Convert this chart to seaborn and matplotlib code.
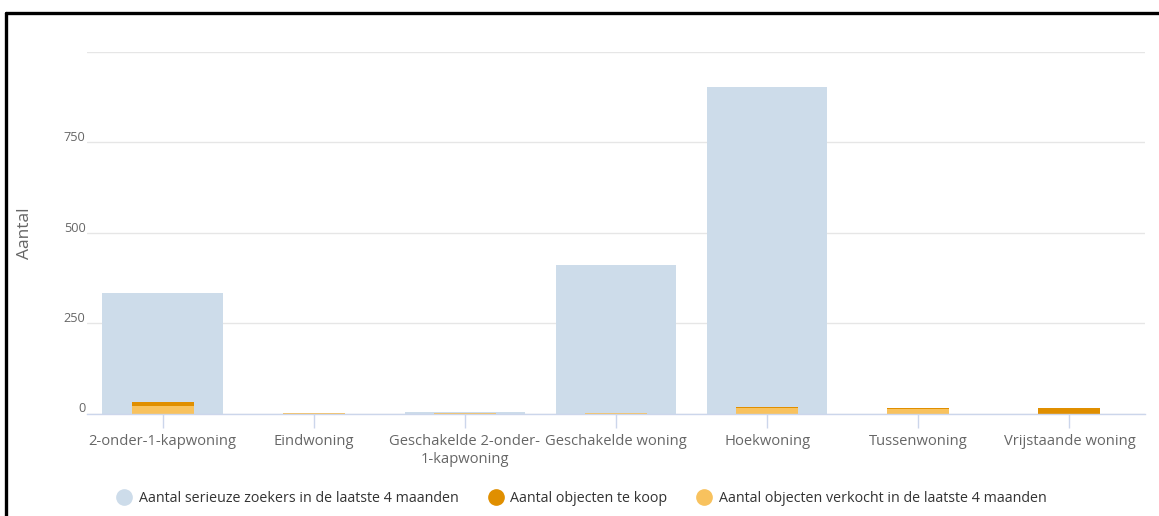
import matplotlib
matplotlib.use("Agg")
import matplotlib.pyplot as plt
from matplotlib.lines import Line2D
import matplotlib.transforms as mtransforms
import seaborn as sns
import pandas as pd

categories = [
    "2-onder-1-kapwoning",
    "Eindwoning",
    "Geschakelde 2-onder-\n1-kapwoning",
    "Geschakelde woning",
    "Hoekwoning",
    "Tussenwoning",
    "Vrijstaande woning",
]
zoekers = [333, 0, 5, 411, 903, 0, 0]
te_koop = [31, 0, 2, 0, 19, 16, 16]
verkocht = [22, 1, 2, 1, 15, 12, 0]

series_names = [
    "Aantal serieuze zoekers in de laatste 4 maanden",
    "Aantal objecten te koop",
    "Aantal objecten verkocht in de laatste 4 maanden",
]
yticks = [0, 250, 500, 750]

BLUE = "#cddcea"
DARK = "#e08f00"
LIGHT = "#f8c25e"
TEXT = "#666666"

sns.set_theme(style="white")
plt.rcParams["font.family"] = ["Open Sans", "DejaVu Sans"]

fig = plt.figure(figsize=(11.59, 5.16), dpi=100)
ax = fig.add_axes([87 / 1159, (516 - 413.5) / 516, (1145 - 87) / 1159, (413.5 - 52) / 516])

df = pd.DataFrame({"cat": categories, "zoekers": zoekers,
                   "te_koop": te_koop, "verkocht": verkocht})

bar_kw = dict(saturation=1, ax=ax, linewidth=0, edgecolor="none")
sns.barplot(data=df, x="cat", y="zoekers", color=BLUE, width=0.795, zorder=2, **bar_kw)
sns.barplot(data=df, x="cat", y="te_koop", color=DARK, width=0.41, zorder=3, **bar_kw)
sns.barplot(data=df, x="cat", y="verkocht", color=LIGHT, width=0.41, zorder=4, **bar_kw)

ax.set_ylim(0, 1000)
ax.set_xlim(-0.5, len(categories) - 0.5)
ax.set_yticks([0, 250, 500, 750, 1000])
ax.set_yticklabels([str(v) for v in yticks] + [""])
ax.yaxis.grid(True, color="#e6e6e6", linewidth=1)
ax.set_axisbelow(True)
for side in ["top", "right", "left"]:
    ax.spines[side].set_visible(False)
ax.spines["bottom"].set_color("#ccd6eb")
ax.spines["bottom"].set_linewidth(1)
ax.spines["bottom"].set_zorder(5)

ax.tick_params(axis="y", length=0, pad=1, labelsize=9.2, labelcolor=TEXT)
ax.tick_params(axis="x", length=10, width=1, color="#ccd6eb", direction="out",
               pad=5, labelsize=10.6, labelcolor=TEXT, bottom=True)
for lbl in ax.get_yticklabels():
    lbl.set_transform(lbl.get_transform() +
                      mtransforms.ScaledTranslation(0, 6 / 100, fig.dpi_scale_trans))
    lbl.set_horizontalalignment("right")
for lbl in ax.get_xticklabels():
    lbl.set_linespacing(1.2)

ax.set_xlabel("")
ax.set_ylabel("Aantal", fontsize=12.5, color=TEXT, labelpad=0)
ax.yaxis.set_label_coords(25 / 1159, 0.5, transform=fig.transFigure)
ax.yaxis.label.set_verticalalignment("center")
ax.yaxis.label.set_position((25 / 1159, 1 - 233 / 516))

handles = [
    Line2D([], [], marker="o", linestyle="", markersize=11,
           markerfacecolor=c, markeredgecolor=c)
    for c in (BLUE, DARK, LIGHT)
]
fig.legend(handles, series_names, loc="center", bbox_to_anchor=(581 / 1159, 1 - 499 / 516),
           ncol=3, frameon=False, fontsize=10.3, handletextpad=0.4, columnspacing=2.0,
           labelcolor="#333333", handlelength=1.2)

# frame lines along the top and left edges
fig.add_artist(Line2D([6 / 1159, 1], [1 - 13 / 516, 1 - 13 / 516], color="black",
                      linewidth=2.4, transform=fig.transFigure))
fig.add_artist(Line2D([6 / 1159, 6 / 1159], [0, 1 - 13 / 516], color="black",
                      linewidth=2.4, transform=fig.transFigure))

fig.savefig("out.png", dpi=100, facecolor="white")
